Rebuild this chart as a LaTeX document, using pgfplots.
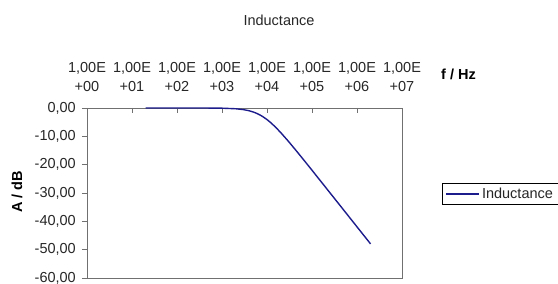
\documentclass[border=0pt]{standalone}
\usepackage{pgfplots}
\pgfplotsset{compat=1.18}
\usepackage{fontspec}
\setmainfont{Liberation Sans}
\definecolor{axgray}{HTML}{707070}
\definecolor{navyline}{HTML}{1C1C8C}
\begin{document}
\begin{tikzpicture}
\begin{axis}[
  at={(87bp,6bp)}, anchor=south west,
  scale only axis, width=315bp, height=170bp,
  xmode=log, xmin=1, xmax=1e7,
  ymin=-60, ymax=0,
  axis line style={axgray, line width=0.9bp},
  xtick={1,10,100,1000,10000,100000,1000000,10000000},
  xticklabels={{1,00E\\+00},{1,00E\\+01},{1,00E\\+02},{1,00E\\+03},{1,00E\\+04},{1,00E\\+05},{1,00E\\+06},{1,00E\\+07}},
  xtick pos=upper, xticklabel pos=upper,
  xminorticks=false,
  ytick={-60,-50,-40,-30,-20,-10,0},
  yticklabels={{-60,00},{-50,00},{-40,00},{-30,00},{-20,00},{-10,00},{0,00}},
  ytick pos=left,
  major tick length=5bp,
  tick style={axgray, line width=0.8bp},
  y tick style={xshift=-5bp},
  xticklabel style={align=center, font=\fontsize{14.5bp}{19bp}\selectfont, inner sep=0pt, yshift=16bp, text=black!85},
  yticklabel style={font=\fontsize{14.5bp}{17bp}\selectfont, inner sep=0pt, xshift=-11bp, text=black!85},
  legend style={at={(1.128,0.494)}, anchor=west, draw=black, line width=0.6bp, inner xsep=3bp, inner ysep=2.5bp, font=\fontsize{14.5bp}{17bp}\selectfont, text=black!85},
  legend cell align=left,
  legend image code/.code={\draw[#1] (0bp,0bp) -- (33bp,0bp);},
  clip=false,
]
\addplot[navyline, line width=1.4bp] coordinates {
 (20,0.000) (50,-0.0002) (100,-0.0007) (200,-0.0027) (500,-0.017)
 (1000,-0.067) (2000,-0.263) (3000,-0.571) (4000,-0.969) (5000,-1.432)
 (6000,-1.938) (7000,-2.469) (8000,-3.010) (10000,-4.087) (12000,-5.119)
 (15000,-6.547) (20000,-8.603) (30000,-11.779) (50000,-16.027) (70000,-18.897)
 (100000,-21.966) (200000,-27.966) (300000,-31.484) (500000,-35.918)
 (1000000,-41.938) (2000000,-47.959)
};
\addlegendentry{Inductance}
\end{axis}
\node[font=\fontsize{14.5bp}{17bp}\selectfont, text=black!85] at (279bp,264bp) {Inductance};
\node[font=\bfseries\fontsize{14.5bp}{17bp}\selectfont, anchor=west, inner sep=0pt] at (441bp,210bp) {f / Hz};
\node[font=\bfseries\fontsize{14.5bp}{17bp}\selectfont, rotate=90, inner sep=0pt] at (17bp,92bp) {A / dB};
\pgfresetboundingbox
\path (0,0) rectangle (558bp,284bp);
\end{tikzpicture}
\end{document}
